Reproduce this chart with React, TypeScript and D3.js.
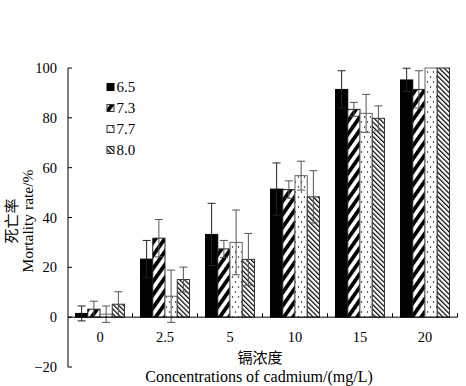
import React from "react";
import * as d3 from "d3";

const categories = ["0", "2.5", "5", "10", "15", "20"];
const seriesNames = ["6.5", "7.3", "7.7", "8.0"];
const values65 = [1.5, 23.3, 33.2, 51.4, 91.4, 95.2];
const errors65 = [3, 7.5, 12.5, 10.5, 7.5, 4.7];
const values73 = [3.2, 31.7, 27.4, 51.2, 83.4, 91.4];
const errors73 = [3.2, 7.5, 3.4, 3.5, 2.8, 7.5];
const values77 = [1.2, 8.4, 30, 56.8, 81.8, 100];
const errors77 = [3.3, 10.5, 13, 5.8, 7.6, 0];
const values80 = [5.2, 15.1, 23.2, 48.3, 79.8, 100];
const errors80 = [5, 5, 10.4, 10.5, 5, 0];
const yTicks = [-20, 0, 20, 40, 60, 80, 100];

const seriesValues = [values65, values73, values77, values80];
const seriesErrors = [errors65, errors73, errors77, errors80];
const fills = ["#000", "url(#p73)", "url(#p77)", "url(#p80)"];
const strokes = ["#000", "#222", "#666", "#333"];

const W = 466;
const H = 386;
const serif = "'Liberation Serif', 'Times New Roman', serif";
const cjk = "'Noto Sans CJK SC', sans-serif";

export default function App() {
  const x = d3.scaleBand<string>().domain(categories).range([67.5, 457.5]).paddingInner(0).paddingOuter(0);
  const xi = d3.scaleBand<string>().domain(seriesNames).range([8, 57]).padding(0);
  const y = d3.scaleLinear().domain([-20, 100]).range([367, 68]);
  const axisX = 68;
  const y0 = y(0);

  return (
    <svg width={W} height={H} style={{ position: "absolute", left: 0, top: 0, background: "#fff" }}>
      <defs>
        <pattern id="p73" patternUnits="userSpaceOnUse" width={7.5} height={7.5} patternTransform="rotate(35)">
          <rect x={0} y={0} width={7.5} height={7.5} fill="#fff" />
          <rect x={0} y={0} width={3.8} height={7.5} fill="#000" />
        </pattern>
        <pattern id="p77" patternUnits="userSpaceOnUse" width={6} height={10}>
          <rect x={0} y={0} width={6} height={10} fill="#fff" />
          <circle cx={1.5} cy={2} r={0.7} fill="#000" />
          <circle cx={4.5} cy={7} r={0.7} fill="#000" />
        </pattern>
        <pattern id="p80" patternUnits="userSpaceOnUse" width={3.4} height={3.4} patternTransform="rotate(-45)">
          <rect x={0} y={0} width={3.4} height={3.4} fill="#fff" />
          <rect x={0} y={0} width={1.2} height={3.4} fill="#000" />
        </pattern>
      </defs>

      {/* bars */}
      {categories.map((c, ci) => (
        <g key={c}>
          {seriesNames.map((s, si) => {
            const v = seriesValues[si][ci];
            const bx = (x(c) as number) + (xi(s) as number);
            const bw = xi.bandwidth();
            const top = Math.min(y(v), y0);
            const h = Math.abs(y(v) - y0);
            return (
              <rect key={s} x={bx} y={top} width={bw} height={h} fill={fills[si]} stroke={strokes[si]} strokeWidth={1} />
            );
          })}
        </g>
      ))}

      {/* error bars */}
      {categories.map((c, ci) => (
        <g key={"e" + c}>
          {seriesNames.map((s, si) => {
            const v = seriesValues[si][ci];
            const e = seriesErrors[si][ci];
            if (!e) return null;
            const cx = (x(c) as number) + (xi(s) as number) + xi.bandwidth() / 2;
            const yt = y(v + e);
            const yb = y(v - e);
            const col = si === 0 ? "#222" : "#555";
            return (
              <g key={s} stroke={col} strokeWidth={1}>
                <line x1={cx} x2={cx} y1={yt} y2={yb} />
                <line x1={cx - 4} x2={cx + 4} y1={yt} y2={yt} />
                <line x1={cx - 4} x2={cx + 4} y1={yb} y2={yb} />
              </g>
            );
          })}
        </g>
      ))}

      {/* y axis */}
      <line x1={axisX} x2={axisX} y1={y(100)} y2={y(-20)} stroke="#000" strokeWidth={1} />
      {yTicks.map((t) => (
        <g key={t}>
          <line x1={axisX} x2={axisX + 4} y1={y(t)} y2={y(t)} stroke="#000" />
          <text x={57} y={y(t) + 5} textAnchor="end" fontFamily={serif} fontSize={14.5} fill="#000">
            {t < 0 ? "\u2212" + Math.abs(t) : t}
          </text>
        </g>
      ))}

      {/* x axis */}
      <line x1={axisX} x2={457.5} y1={y0} y2={y0} stroke="#000" strokeWidth={1} />
      {categories.map((c, ci) => (
        <g key={"t" + c}>
          {ci > 0 && (
            <line x1={x(c) as number} x2={x(c) as number} y1={y0} y2={y0 - 4} stroke="#000" />
          )}
          <text x={(x(c) as number) + x.bandwidth() / 2} y={342} textAnchor="middle" fontFamily={serif} fontSize={14.5} fill="#000">
            {c}
          </text>
        </g>
      ))}
      <line x1={457.5} x2={457.5} y1={y0} y2={y0 - 4} stroke="#000" />

      {/* axis titles */}
      <text x={260} y={363} textAnchor="middle" fontFamily={cjk} fontSize={15} fill="#000">镉浓度</text>
      <text x={259} y={382} textAnchor="middle" fontFamily={serif} fontSize={16} fill="#000">
        Concentrations of cadmium/(mg/L)
      </text>
      <text transform="translate(17,221) rotate(-90)" textAnchor="middle" fontFamily={cjk} fontSize={15} fill="#000">死亡率</text>
      <text transform="translate(33,221) rotate(-90)" textAnchor="middle" fontFamily={serif} fontSize={15.5} fill="#000">
        Mortality rate/%
      </text>

      {/* legend */}
      {seriesNames.map((s, si) => {
        const cy = 87 + si * 21;
        return (
          <g key={"l" + s}>
            <rect x={107} y={cy - 3.5} width={7} height={7} fill={fills[si]} stroke={si === 0 ? "#000" : "#333"} strokeWidth={1} />
            <text x={116.5} y={cy + 5} fontFamily={serif} fontSize={15} fill="#000">{s}</text>
          </g>
        );
      })}
    </svg>
  );
}
